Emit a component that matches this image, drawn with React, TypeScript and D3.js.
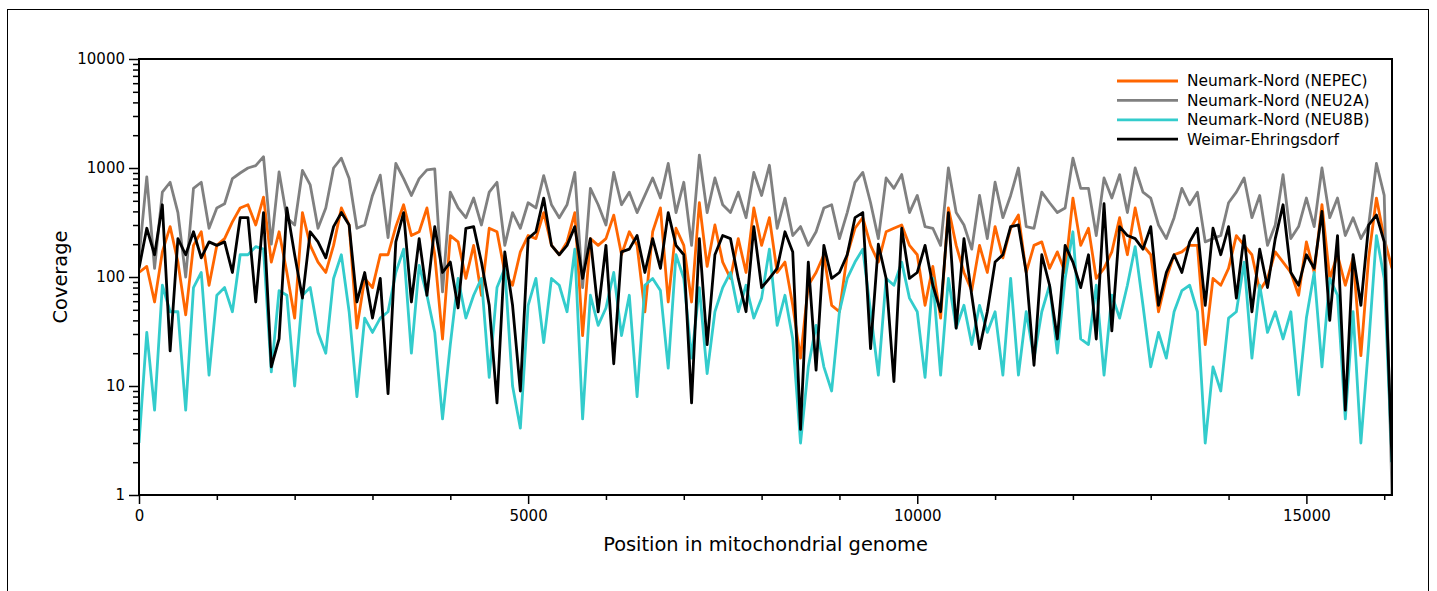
import React, { useEffect, useRef } from "react";
import * as d3 from "d3";

// sampling positions along the mitochondrial genome (every 100 bp)
const positions = d3.range(0, 16101, 100);

const nepec = [
  110, 125, 59, 170, 290, 137, 45, 195, 260, 84,
  195, 225, 320, 430, 460, 300, 540, 137, 260, 110,
  42, 390, 195, 137, 110, 195, 430, 300, 34, 97,
  80, 160, 160, 290, 460, 240, 260, 430, 160, 27,
  240, 210, 97, 195, 68, 280, 260, 110, 84, 170,
  240, 225, 390, 195, 160, 210, 390, 29, 225, 195,
  225, 370, 160, 260, 195, 48, 260, 430, 59, 280,
  195, 59, 480, 125, 300, 137, 97, 225, 110, 430,
  195, 350, 110, 137, 55, 18, 84, 110, 160, 55,
  48, 160, 280, 350, 195, 137, 260, 280, 300, 195,
  160, 55, 125, 42, 430, 195, 110, 75, 195, 110,
  290, 150, 280, 370, 110, 195, 210, 120, 170, 110,
  530, 195, 280, 97, 120, 170, 350, 160, 430, 195,
  160, 48, 97, 160, 170, 195, 195, 24, 97, 84,
  120, 240, 195, 160, 75, 97, 170, 137, 110, 68,
  210, 110, 460, 97, 160, 84, 150, 19, 150, 530,
  225, 120,
];

const neu2a = [
  150, 830, 120, 600, 740, 390, 100, 650, 740, 280,
  430, 470, 800, 900, 1000, 1050, 1270, 200, 920, 350,
  300, 950, 700, 280, 430, 1000, 1230, 800, 280, 300,
  560, 860, 230, 1100, 800, 560, 800, 960, 980, 73,
  600, 430, 350, 530, 300, 600, 740, 195, 390, 280,
  480, 430, 850, 460, 350, 460, 910, 80, 650, 460,
  300, 910, 460, 600, 390, 560, 810, 530, 1100, 390,
  740, 195, 1310, 390, 810, 460, 390, 600, 350, 910,
  560, 1060, 280, 530, 240, 290, 195, 260, 430, 460,
  225, 390, 740, 910, 480, 225, 810, 650, 870, 390,
  560, 290, 280, 195, 1000, 390, 300, 180, 560, 225,
  740, 350, 560, 1000, 290, 280, 600, 480, 390, 430,
  1230, 650, 650, 240, 810, 530, 870, 390, 1000, 600,
  530, 300, 225, 350, 650, 460, 600, 210, 225, 240,
  480, 600, 810, 350, 560, 195, 300, 870, 225, 290,
  530, 290, 1000, 350, 530, 240, 350, 225, 300, 1100,
  560, 1,
];

const neu8b = [
  3, 31, 6, 84, 48, 48, 6, 80, 110, 12.6,
  68, 80, 48, 160, 160, 190, 180, 13.5, 75, 68,
  10, 68, 80, 31, 20, 97, 160, 48, 8, 42,
  31, 42, 48, 110, 180, 20, 128, 68, 31, 5,
  24, 97, 42, 68, 97, 12, 80, 120, 10, 4.1,
  55, 97, 25, 97, 84, 48, 180, 5, 68, 36,
  52, 110, 29, 68, 8, 84, 97, 75, 14.6, 160,
  97, 18, 80, 13, 48, 80, 110, 48, 84, 42,
  64, 180, 36, 68, 27, 3, 15, 36, 15, 9,
  48, 97, 137, 180, 48, 12.6, 97, 84, 137, 64,
  48, 12, 97, 12.6, 97, 34, 55, 24, 55, 31,
  48, 12.6, 97, 12.6, 48, 18, 48, 84, 20, 97,
  260, 27, 24, 84, 12.6, 68, 42, 84, 190, 55,
  15, 31, 18, 48, 75, 84, 48, 3, 15, 9,
  42, 48, 137, 18, 84, 31, 48, 27, 48, 8.3,
  42, 110, 15, 97, 68, 5, 48, 3, 24, 240,
  97, 2,
];

const weimar = [
  120, 280, 160, 460, 21, 225, 160, 260, 150, 210,
  195, 210, 110, 350, 350, 59, 390, 15, 27, 430,
  160, 64, 260, 210, 150, 290, 390, 300, 59, 110,
  42, 97, 8.5, 210, 390, 59, 225, 68, 290, 110,
  137, 52, 280, 290, 137, 55, 7, 170, 55, 9,
  225, 260, 530, 195, 160, 195, 290, 97, 225, 48,
  195, 16, 170, 180, 240, 110, 225, 120, 390, 195,
  160, 7, 225, 24, 160, 240, 225, 97, 48, 290,
  80, 97, 120, 260, 170, 4, 137, 14, 195, 97,
  110, 160, 350, 390, 22, 200, 97, 11, 280, 97,
  110, 195, 84, 48, 390, 34, 225, 68, 22, 48,
  137, 160, 290, 300, 110, 15.5, 160, 84, 27, 195,
  137, 80, 160, 27, 470, 32, 290, 240, 225, 180,
  290, 55, 110, 160, 110, 210, 280, 55, 280, 160,
  290, 64, 240, 48, 180, 80, 225, 460, 110, 84,
  160, 120, 400, 40, 240, 6, 160, 55, 300, 370,
  210, 2,
];

const seriesNames = [
  "Neumark-Nord (NEPEC)",
  "Neumark-Nord (NEU2A)",
  "Neumark-Nord (NEU8B)",
  "Weimar-Ehringsdorf",
];
const seriesValues = [nepec, neu2a, neu8b, weimar];
const seriesColors = ["#ff6600", "#808080", "#33cccc", "#000000"];

const yMajorTicks = [1, 10, 100, 1000, 10000];
const xMajorTicks = [0, 5000, 10000, 15000];

const FONT = "'DejaVu Sans', sans-serif";

export default function App() {
  const svgRef = useRef<SVGSVGElement>(null);

  useEffect(() => {
    const svg = d3.select(svgRef.current);
    svg.selectAll("*").remove();

    const left = 139, right = 1392, top = 59, bottom = 495;

    const x = d3.scaleLinear().domain([0, 16100]).range([left, right]);
    const y = d3.scaleLog().domain([1, 10000]).range([bottom, top]);

    // outer figure border
    svg.append("rect")
      .attr("x", 7.5).attr("y", 9.5)
      .attr("width", 1421).attr("height", 620)
      .attr("fill", "none").attr("stroke", "#000").attr("stroke-width", 1);

    svg.append("clipPath").attr("id", "plot-clip")
      .append("rect")
      .attr("x", left).attr("y", top)
      .attr("width", right - left).attr("height", bottom - top);

    const line = d3.line<number>()
      .x((_, i) => x(positions[i]))
      .y(d => y(d));

    const lines = svg.append("g").attr("clip-path", "url(#plot-clip)");
    seriesValues.forEach((vals, k) => {
      lines.append("path")
        .datum(vals)
        .attr("fill", "none")
        .attr("stroke", seriesColors[k])
        .attr("stroke-width", 2.8)
        .attr("stroke-linejoin", "round")
        .attr("d", line);
    });

    // y axis: major + minor ticks
    const yMinor: number[] = [];
    for (let e = 0; e < 4; e++) for (let m = 2; m < 10; m++) yMinor.push(m * 10 ** e);

    const yAxis = svg.append("g").attr("transform", `translate(${left},0)`)
      .call(d3.axisLeft(y).tickValues(yMajorTicks).tickSize(10).tickPadding(4)
        .tickFormat(d3.format("d")));
    svg.append("g").attr("transform", `translate(${left},0)`)
      .call(d3.axisLeft(y).tickValues(yMinor).tickSize(6).tickFormat(() => ""));

    const xMinor = d3.range(1000, 16001, 1000).filter(v => v % 5000 !== 0);
    const xAxis = svg.append("g").attr("transform", `translate(0,${bottom})`)
      .call(d3.axisBottom(x).tickValues(xMajorTicks).tickSize(9).tickPadding(6)
        .tickFormat(d3.format("d")));
    svg.append("g").attr("transform", `translate(0,${bottom})`)
      .call(d3.axisBottom(x).tickValues(xMinor).tickSize(5).tickFormat(() => ""));

    svg.selectAll(".domain").remove();
    svg.selectAll(".tick line").attr("stroke", "#000").attr("stroke-width", 1.5);
    [yAxis, xAxis].forEach(a =>
      a.selectAll("text")
        .attr("font-family", FONT).attr("font-size", 15).attr("fill", "#000"));

    // frame
    svg.append("rect")
      .attr("x", left).attr("y", top)
      .attr("width", right - left).attr("height", bottom - top)
      .attr("fill", "none").attr("stroke", "#000").attr("stroke-width", 2);

    // axis titles
    svg.append("text")
      .attr("x", (left + right) / 2).attr("y", 551)
      .attr("text-anchor", "middle")
      .attr("font-family", FONT).attr("font-size", 19.4)
      .text("Position in mitochondrial genome");
    svg.append("text")
      .attr("transform", `translate(67,${(top + bottom) / 2}) rotate(-90)`)
      .attr("text-anchor", "middle")
      .attr("font-family", FONT).attr("font-size", 19.4)
      .text("Coverage");

    // legend
    const legend = svg.append("g");
    seriesNames.forEach((name, k) => {
      const ly = 81 + k * 19.4;
      legend.append("line")
        .attr("x1", 1117).attr("x2", 1178).attr("y1", ly).attr("y2", ly)
        .attr("stroke", seriesColors[k]).attr("stroke-width", 2.8);
      legend.append("text")
        .attr("x", 1187).attr("y", ly).attr("dy", "0.35em")
        .attr("font-family", FONT).attr("font-size", 15.4)
        .text(name);
    });
  }, []);

  return (
    <svg
      ref={svgRef}
      width={1437}
      height={591}
      style={{ position: "absolute", left: 0, top: 0, background: "#fff" }}
    />
  );
}
